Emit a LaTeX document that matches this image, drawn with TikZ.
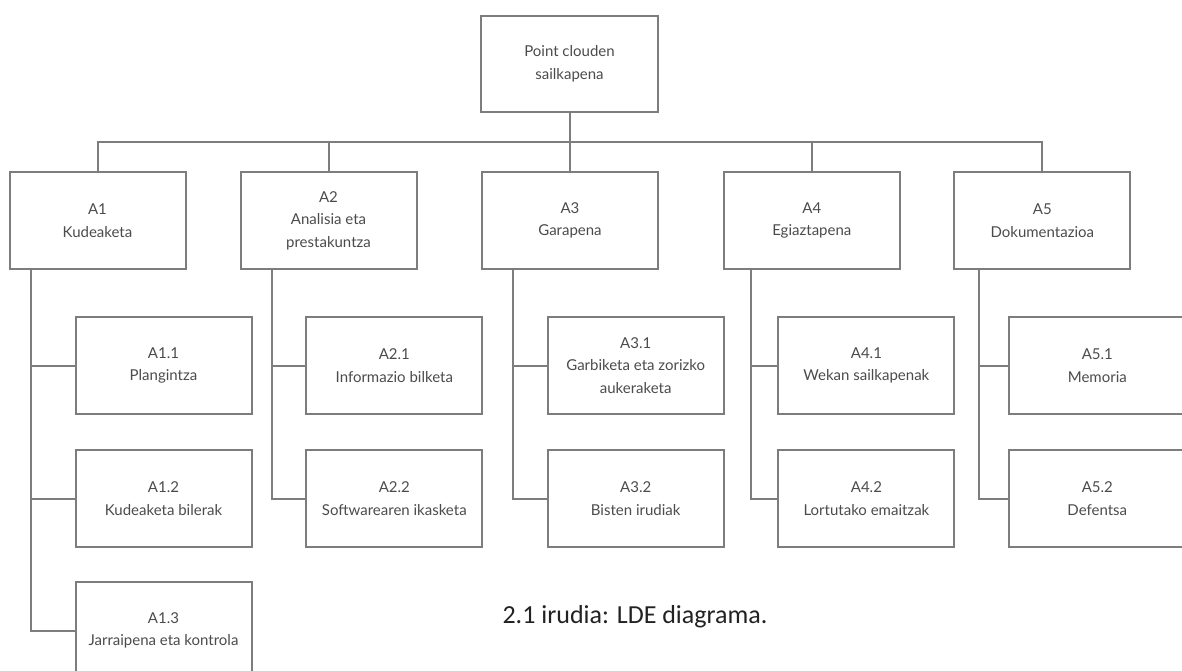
\documentclass[tikz,border=0pt]{standalone}
\usepackage{fontspec}
\setmainfont{Lato}
\newfontfamily\capfont{Carlito}
\usetikzlibrary{calc}
\definecolor{linegray}{RGB}{125,125,125}
\definecolor{textgray}{RGB}{75,75,75}
\definecolor{capcol}{RGB}{34,34,34}
\tikzset{
  x=1pt, y=1pt,
  box/.style={draw=linegray, line width=2pt, minimum width=176pt, minimum height=97pt,
    align=center, inner sep=0pt, text=textgray, font=\fontsize{15}{22.5}\selectfont},
  conn/.style={draw=linegray, line width=2pt},
}
\begin{document}
\begin{tikzpicture}
\useasboundingbox (0,0) rectangle (1182,-671);
\clip (0,0) rectangle (1182,-671);
% root
\node[box, minimum width=177pt, minimum height=96pt] (root) at (569.5,-64) {Point clouden\\sailkapena};
% level 1
\node[box] (A1) at (97.5,-220.5) {A1\\Kudeaketa};
\node[box] (A2) at (328.5,-220.5) {A2\\Analisia eta\\prestakuntza};
\node[box] (A3) at (570,-220.5) {A3\\Garapena};
\node[box] (A4) at (811.8,-220.5) {A4\\Egiaztapena};
\node[box] (A5) at (1042.3,-220.5) {A5\\Dokumentazioa};
% level 2
\node[box] (A11) at (163.5,-365.5) {A1.1\\Plangintza};
\node[box] (A12) at (163.5,-498.5) {A1.2\\Kudeaketa bilerak};
\node[box] (A13) at (163.5,-630.5) {A1.3\\Jarraipena eta kontrola};
\node[box] (A21) at (394.3,-365.5) {A2.1\\Informazio bilketa};
\node[box] (A22) at (394.3,-498.5) {A2.2\\Softwarearen ikasketa};
\node[box] (A31) at (635.7,-365.5) {A3.1\\Garbiketa eta zorizko\\aukeraketa};
\node[box] (A32) at (635.7,-498.5) {A3.2\\Bisten irudiak};
\node[box] (A41) at (866.4,-365.5) {A4.1\\Wekan sailkapenak};
\node[box] (A42) at (866.4,-498.5) {A4.2\\Lortutako emaitzak};
\node[box] (A51) at (1097.3,-365.5) {A5.1\\Memoria};
\node[box] (A52) at (1097.3,-498.5) {A5.2\\Defentsa};
% top connectors
\foreach \n in {A1,A2,A3,A4,A5}
  \draw[conn] (root.south) -- ++(0,-29) -| (\n.north);
% spines
\coordinate (s1) at ($(A1.south west)+(22.7,0)$);
\coordinate (s2) at ($(A2.south west)+(32.6,0)$);
\coordinate (s3) at ($(A3.south west)+(32.4,0)$);
\coordinate (s4) at ($(A4.south west)+(28.3,0)$);
\coordinate (s5) at ($(A5.south west)+(25.4,0)$);
\draw[conn] (s1) |- (A11.west);
\draw[conn] (s1) |- (A12.west);
\draw[conn] (s1) |- (A13.west);
\draw[conn] (s2) |- (A21.west);
\draw[conn] (s2) |- (A22.west);
\draw[conn] (s3) |- (A31.west);
\draw[conn] (s3) |- (A32.west);
\draw[conn] (s4) |- (A41.west);
\draw[conn] (s4) |- (A42.west);
\draw[conn] (s5) |- (A51.west);
\draw[conn] (s5) |- (A52.west);
% caption
\node[font=\capfont\fontsize{26}{30}\selectfont, text=capcol, inner sep=0pt] (cap) at (635,-617) {2.1 irudia: LDE diagrama.};
\end{tikzpicture}
\end{document}
